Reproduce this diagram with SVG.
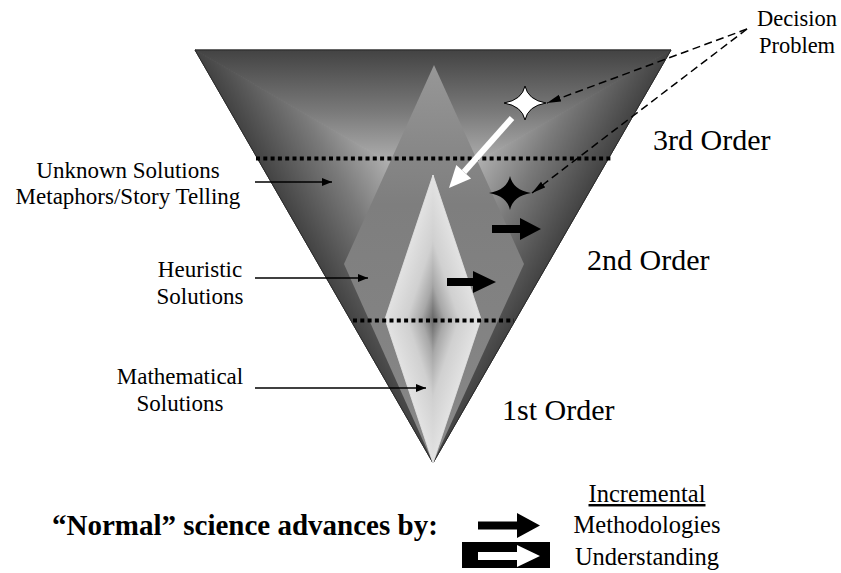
<svg xmlns="http://www.w3.org/2000/svg" xmlns:xlink="http://www.w3.org/1999/xlink" width="841" height="573" viewBox="0 0 841 573">
<style>
  text { font-family: "Liberation Serif", "Times New Roman", serif; fill: #000; }
  .lbl { font-size: 23px; text-anchor: middle; }
  .ord { font-size: 30px; }
  .leg { font-size: 24.5px; text-anchor: middle; }
  .bold { font-size: 29px; font-weight: bold; }
  .dots { stroke: #000; stroke-width: 4; stroke-dasharray: 4 3.3; fill: none; }
  .ptr { stroke: #000; stroke-width: 1.3; fill: none; marker-end: url(#ah); }
  .dash { stroke: #000; stroke-width: 1.5; stroke-dasharray: 8 4.5; fill: none; marker-end: url(#ahs); }
</style>
<defs>
  <marker id="ah" markerUnits="userSpaceOnUse" markerWidth="11" markerHeight="9" refX="10" refY="4" orient="auto">
    <path d="M0,0 L10,4 L0,8 Z" fill="#000"/>
  </marker>
  <marker id="ahs" markerUnits="userSpaceOnUse" markerWidth="15" markerHeight="8" refX="14" refY="3.5" orient="auto">
    <path d="M0,0 L14,3.5 L0,7 Z" fill="#000"/>
  </marker>
  <linearGradient id="gT" gradientUnits="userSpaceOnUse" x1="0" y1="50" x2="0" y2="188">
    <stop offset="0" stop-color="#434343"/>
    <stop offset="0.45" stop-color="#7a7a7a"/>
    <stop offset="1" stop-color="#cacaca"/>
  </linearGradient>
  <linearGradient id="gL" href="#gT" xlink:href="#gT" gradientUnits="userSpaceOnUse" x1="314" y1="256.6" x2="433" y2="188"/>
  <linearGradient id="gR" href="#gT" xlink:href="#gT" gradientUnits="userSpaceOnUse" x1="552" y1="256.6" x2="433" y2="188"/>
  <linearGradient id="gM" gradientUnits="userSpaceOnUse" x1="0" y1="65" x2="0" y2="463">
    <stop offset="0" stop-color="#979797"/>
    <stop offset="0.35" stop-color="#7e7e7e"/>
    <stop offset="1" stop-color="#888888"/>
  </linearGradient>
  <linearGradient id="gI1" gradientUnits="userSpaceOnUse" x1="389.8" y1="304.6" x2="433" y2="319">
    <stop offset="0" stop-color="#e2e2e2"/>
    <stop offset="0.45" stop-color="#d0d0d0"/>
    <stop offset="0.75" stop-color="#a8a8a8"/>
    <stop offset="1" stop-color="#686868"/>
  </linearGradient>
  <linearGradient id="gI2" href="#gI1" xlink:href="#gI1" gradientUnits="userSpaceOnUse" x1="476.2" y1="304.6" x2="433" y2="319"/>
  <linearGradient id="gI3" href="#gI1" xlink:href="#gI1" gradientUnits="userSpaceOnUse" x1="389.8" y1="333.4" x2="433" y2="319"/>
  <linearGradient id="gI4" href="#gI1" xlink:href="#gI1" gradientUnits="userSpaceOnUse" x1="476.2" y1="333.4" x2="433" y2="319"/>
</defs>

<g id="funnel">
  <polygon points="195,50 671,50 433,188" fill="url(#gT)" stroke="url(#gT)" stroke-width="1"/>
  <polygon points="195,50 433,463 433,188" fill="url(#gL)" stroke="url(#gL)" stroke-width="1"/>
  <polygon points="671,50 433,463 433,188" fill="url(#gR)" stroke="url(#gR)" stroke-width="1"/>
  <polygon points="195,50 671,50 433,463" fill="none" stroke="#2a2a2a" stroke-width="1"/>
</g>

<g id="heuristic-region">
  <polygon points="434,65 524,264 433,463 344,264" fill="url(#gM)"/>
</g>

<g id="mathematical-region">
  <polygon points="433,175 385,319 433,319" fill="url(#gI1)" stroke="url(#gI1)" stroke-width="0.8"/>
  <polygon points="433,175 481,319 433,319" fill="url(#gI2)" stroke="url(#gI2)" stroke-width="0.8"/>
  <polygon points="433,463 385,319 433,319" fill="url(#gI3)" stroke="url(#gI3)" stroke-width="0.8"/>
  <polygon points="433,463 481,319 433,319" fill="url(#gI4)" stroke="url(#gI4)" stroke-width="0.8"/>
</g>

<g id="order-boundaries">
  <line class="dots" x1="256" y1="158.5" x2="612" y2="158.5"/>
  <line class="dots" x1="353" y1="320.5" x2="514" y2="320.5"/>
</g>

<g id="white-star">
  <path d="M525,86 Q528,100 546,103 Q528,106 525,120 Q522,106 504,103 Q522,100 525,86 Z" fill="#fff" stroke="#000" stroke-width="1"/>
</g>
<g id="black-star">
  <path d="M510,176 Q513,190 531,193 Q513,196 510,210 Q507,196 489,193 Q507,190 510,176 Z" fill="#000"/>
</g>

<g id="understanding-arrow">
  <line x1="512" y1="118" x2="464" y2="172" stroke="#fff" stroke-width="6"/>
  <polygon points="449,188 471.1,178.4 456.3,165" fill="#fff"/>
</g>

<g id="method-arrows">
  <polygon points="492,225 520,225 520,218 541,229 520,240 520,233 492,233" fill="#000"/>
  <polygon points="447,278 473,278 473,271 496,282 473,293 473,286 447,286" fill="#000"/>
</g>

<g id="connectors">
  <line class="ptr" x1="255" y1="182" x2="332" y2="182"/>
  <line class="ptr" x1="255" y1="278" x2="368" y2="278"/>
  <line class="ptr" x1="255" y1="388" x2="426" y2="388"/>
  <line class="dash" x1="747" y1="29" x2="547" y2="103"/>
  <line class="dash" x1="747" y1="29" x2="532" y2="193"/>
</g>

<g id="labels">
  <text class="lbl" x="128" y="178">Unknown Solutions</text>
  <text class="lbl" x="128" y="204">Metaphors/Story Telling</text>
  <text class="lbl" x="200" y="277">Heuristic</text>
  <text class="lbl" x="200" y="304">Solutions</text>
  <text class="lbl" x="180" y="384">Mathematical</text>
  <text class="lbl" x="180" y="411">Solutions</text>
  <text class="lbl" x="797" y="26" style="font-size:22.5px">Decision</text>
  <text class="lbl" x="797" y="53" style="font-size:22.5px">Problem</text>
  <text class="ord" x="653" y="150">3rd Order</text>
  <text class="ord" x="587" y="270">2nd Order</text>
  <text class="ord" x="502" y="420">1st Order</text>
</g>

<g id="legend">
  <text class="bold" x="52" y="535">“Normal” science advances by:</text>
  <polygon points="478,521.5 517,521.5 517,513 540,525.5 517,538 517,529.5 478,529.5" fill="#000"/>
  <rect x="462" y="542" width="88" height="26" fill="#000"/>
  <polygon points="478,552 517,552 517,545 540,556 517,567 517,560 478,560" fill="#fff"/>
  <text class="leg" x="647" y="502" text-decoration="underline">Incremental</text>
  <text class="leg" x="647" y="533">Methodologies</text>
  <text class="leg" x="647" y="565">Understanding</text>
</g>
</svg>
